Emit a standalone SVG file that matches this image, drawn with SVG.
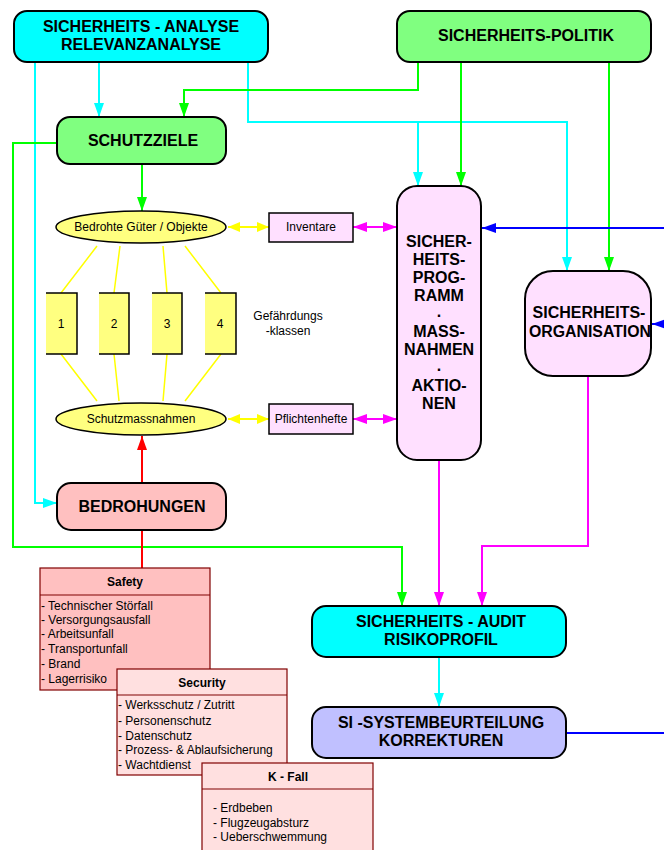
<svg xmlns="http://www.w3.org/2000/svg" width="664" height="850" viewBox="0 0 664 850">
<style>
.box{stroke:#000;stroke-width:2}
.t16{font-family:"Liberation Sans",Arial,sans-serif;font-size:16px;font-weight:bold;text-anchor:middle;fill:#000}
.t12{font-family:"Liberation Sans",Arial,sans-serif;font-size:12px;fill:#000}
.c{text-anchor:middle}
.b{font-weight:bold}
.ln{fill:none;stroke-width:2}
.tbl{stroke:#800000;stroke-width:1.2}
</style>
<defs>
<marker id="aC" viewBox="0 0 14 10" refX="14" refY="5" markerWidth="14" markerHeight="10" markerUnits="userSpaceOnUse" orient="auto"><path d="M0,0 L14,5 L0,10 z" fill="#00FFFF"/></marker>
<marker id="aG" viewBox="0 0 14 10" refX="14" refY="5" markerWidth="14" markerHeight="10" markerUnits="userSpaceOnUse" orient="auto"><path d="M0,0 L14,5 L0,10 z" fill="#00FF00"/></marker>
<marker id="aR" viewBox="0 0 14 10" refX="14" refY="5" markerWidth="14" markerHeight="10" markerUnits="userSpaceOnUse" orient="auto"><path d="M0,0 L14,5 L0,10 z" fill="#FF0000"/></marker>
<marker id="aM" viewBox="0 0 14 10" refX="14" refY="5" markerWidth="14" markerHeight="10" markerUnits="userSpaceOnUse" orient="auto-start-reverse"><path d="M0,0 L14,5 L0,10 z" fill="#FF00FF"/></marker>
<marker id="aY" viewBox="0 0 12 10" refX="12" refY="5" markerWidth="12" markerHeight="10" markerUnits="userSpaceOnUse" orient="auto-start-reverse"><path d="M0,0 L12,5 L0,10 z" fill="#FFFF00"/></marker>
<marker id="aB" viewBox="0 0 14 10" refX="14" refY="5" markerWidth="14" markerHeight="10" markerUnits="userSpaceOnUse" orient="auto"><path d="M0,0 L14,5 L0,10 z" fill="#0000FF"/></marker>
</defs>

<g id="connectors">
<g stroke="#FFFF00" stroke-width="1.5" fill="none">
<path d="M97,246 L61,293 M120,246 L114,293 M163,246 L167,293 M185,246 L221,293"/>
<path d="M61,354 L97,401 M114,354 L119,401 M167,354 L163,401 M221,354 L185,401"/>
</g>
<g stroke="#00FFFF" class="ln">
<path d="M99,62 L99,117" marker-end="url(#aC)"/>
<path d="M35,62 L35,503 L57,503" marker-end="url(#aC)"/>
<path d="M248,62 L248,122 L567,122 L567,271" marker-end="url(#aC)"/>
<path d="M418,122 L418,186" marker-end="url(#aC)"/>
<path d="M439,657 L439,707" marker-end="url(#aC)"/>
</g>
<g stroke="#00FF00" class="ln">
<path d="M418,62 L418,90 L184,90 L184,117" marker-end="url(#aG)"/>
<path d="M461,62 L461,186" marker-end="url(#aG)"/>
<path d="M609,62 L609,271" marker-end="url(#aG)"/>
<path d="M57,143 L13,143 L13,547 L402,547 L402,606" marker-end="url(#aG)"/>
<path d="M142,164 L142,211" marker-end="url(#aG)"/>
</g>
<g stroke="#FF0000" class="ln">
<path d="M142,483 L142,436" marker-end="url(#aR)"/>
<path d="M142,530 L142,568"/>
</g>
<g stroke="#FF00FF" class="ln">
<path d="M588,376 L588,546 L482,546 L482,606" marker-end="url(#aM)"/>
<path d="M439,460 L439,606" marker-end="url(#aM)"/>
<path d="M353,227 L397,227" marker-start="url(#aM)" marker-end="url(#aM)"/>
<path d="M353,419 L397,419" marker-start="url(#aM)" marker-end="url(#aM)"/>
</g>
<g stroke="#FFFF00" class="ln">
<path d="M228,227 L269,227" marker-start="url(#aY)" marker-end="url(#aY)"/>
<path d="M228,419 L269,419" marker-start="url(#aY)" marker-end="url(#aY)"/>
</g>
<g stroke="#0000FF" class="ln">
<path d="M664,228 L482,228" marker-end="url(#aB)"/>
<path d="M664,324 L652,324" marker-end="url(#aB)"/>
<path d="M566,733 L664,733"/>
</g>
</g>

<g id="analyse">
<rect class="box" x="14" y="11" width="254" height="51" rx="13" fill="#00FFFF"/>
<text class="t16" x="141" y="32">SICHERHEITS - ANALYSE</text>
<text class="t16" x="141" y="50">RELEVANZANALYSE</text>
</g>
<g id="politik">
<rect class="box" x="397" y="11" width="254" height="51" rx="13" fill="#80FF80"/>
<text class="t16" x="526" y="41">SICHERHEITS-POLITIK</text>
</g>
<g id="schutzziele">
<rect class="box" x="57" y="117" width="169" height="47" rx="13" fill="#80FF80"/>
<text class="t16" x="143" y="146">SCHUTZZIELE</text>
</g>
<g id="gueter">
<ellipse cx="141" cy="227" rx="85" ry="16" fill="#FFFF80" stroke="#000" stroke-width="1.5"/>
<text class="t12 c" x="141" y="231">Bedrohte Güter / Objekte</text>
</g>
<g id="inventare">
<rect x="269" y="213" width="84" height="29" fill="#FFE0FF" stroke="#000" stroke-width="1.5"/>
<text class="t12 c" x="311" y="231">Inventare</text>
</g>
<g id="klasse1">
<rect x="46" y="293" width="31" height="61" fill="#FFFF80"/>
<path d="M46,293 L77,293 L77,354 L46,354" fill="none" stroke="#000" stroke-width="1.5"/>
<text class="t12 c" x="61" y="328">1</text>
</g>
<g id="klasse2">
<rect x="99" y="293" width="30" height="61" fill="#FFFF80"/>
<path d="M99,293 L129,293 L129,354 L99,354" fill="none" stroke="#000" stroke-width="1.5"/>
<text class="t12 c" x="114" y="328">2</text>
</g>
<g id="klasse3">
<rect x="152" y="293" width="30" height="61" fill="#FFFF80"/>
<path d="M152,293 L182,293 L182,354 L152,354" fill="none" stroke="#000" stroke-width="1.5"/>
<text class="t12 c" x="167" y="328">3</text>
</g>
<g id="klasse4">
<rect x="205" y="293" width="31" height="61" fill="#FFFF80"/>
<path d="M205,293 L236,293 L236,354 L205,354" fill="none" stroke="#000" stroke-width="1.5"/>
<text class="t12 c" x="220" y="328">4</text>
</g>
<g id="gefaehrdungsklassen">
<text class="t12 c" x="288" y="320">Gefährdungs</text>
<text class="t12 c" x="288" y="335">-klassen</text>
</g>
<g id="schutzmassnahmen">
<ellipse cx="141" cy="419" rx="85" ry="16" fill="#FFFF80" stroke="#000" stroke-width="1.5"/>
<text class="t12 c" x="141" y="423">Schutzmassnahmen</text>
</g>
<g id="pflichtenhefte">
<rect x="269" y="404" width="84" height="30" fill="#FFE0FF" stroke="#000" stroke-width="1.5"/>
<text class="t12 c" x="311" y="423">Pflichtenhefte</text>
</g>
<g id="programm">
<rect class="box" x="397" y="186" width="84" height="274" rx="20" fill="#FFE0FF"/>
<text class="t16" x="439" y="247">SICHER-</text>
<text class="t16" x="439" y="265">HEITS-</text>
<text class="t16" x="439" y="283">PROG-</text>
<text class="t16" x="439" y="301">RAMM</text>
<text class="t16" x="439" y="317">.</text>
<text class="t16" x="439" y="337">MASS-</text>
<text class="t16" x="439" y="355">NAHMEN</text>
<text class="t16" x="439" y="371">.</text>
<text class="t16" x="439" y="391">AKTIO-</text>
<text class="t16" x="439" y="409">NEN</text>
</g>
<g id="organisation">
<rect class="box" x="525" y="271" width="126" height="105" rx="28" fill="#FFE0FF"/>
<text class="t16" x="589" y="318">SICHERHEITS-</text>
<text class="t16" x="590" y="337" textLength="122" lengthAdjust="spacingAndGlyphs">ORGANISATION</text>
</g>
<g id="bedrohungen">
<rect class="box" x="57" y="483" width="169" height="47" rx="14" fill="#FFC0C0"/>
<text class="t16" x="142" y="512">BEDROHUNGEN</text>
</g>
<g id="audit">
<rect class="box" x="312" y="606" width="254" height="51" rx="14" fill="#00FFFF"/>
<text class="t16" x="441" y="627">SICHERHEITS - AUDIT</text>
<text class="t16" x="441" y="645">RISIKOPROFIL</text>
</g>
<g id="systembeurteilung">
<rect class="box" x="312" y="707" width="254" height="51" rx="14" fill="#C0C0FF"/>
<text class="t16" x="441" y="728">SI -SYSTEMBEURTEILUNG</text>
<text class="t16" x="441" y="746">KORREKTUREN</text>
</g>
<g id="safety">
<rect class="tbl" x="40" y="568" width="170" height="122" fill="#FFC0C0"/>
<line class="tbl" x1="40" y1="595" x2="210" y2="595"/>
<text class="t12 c b" x="125" y="586">Safety</text>
<text class="t12" x="41" y="610">- Technischer Störfall</text>
<text class="t12" x="41" y="624">- Versorgungsausfall</text>
<text class="t12" x="41" y="638">- Arbeitsunfall</text>
<text class="t12" x="41" y="653">- Transportunfall</text>
<text class="t12" x="41" y="668">- Brand</text>
<text class="t12" x="41" y="683">- Lagerrisiko</text>
</g>
<g id="security">
<rect class="tbl" x="117" y="669" width="170" height="106" fill="#FFE0E0"/>
<line class="tbl" x1="117" y1="695" x2="287" y2="695"/>
<text class="t12 c b" x="202" y="687">Security</text>
<text class="t12" x="118" y="709">- Werksschutz / Zutritt</text>
<text class="t12" x="118" y="725">- Personenschutz</text>
<text class="t12" x="118" y="740">- Datenschutz</text>
<text class="t12" x="118" y="754">- Prozess- &amp; Ablaufsicherung</text>
<text class="t12" x="118" y="769">- Wachtdienst</text>
</g>
<g id="kfall">
<rect class="tbl" x="202" y="763" width="171" height="100" fill="#FFE0E0"/>
<line class="tbl" x1="202" y1="789" x2="373" y2="789"/>
<text class="t12 c b" x="288" y="781">K - Fall</text>
<text class="t12" x="213" y="812">- Erdbeben</text>
<text class="t12" x="213" y="827">- Flugzeugabsturz</text>
<text class="t12" x="213" y="841">- Ueberschwemmung</text>
</g>
</svg>
